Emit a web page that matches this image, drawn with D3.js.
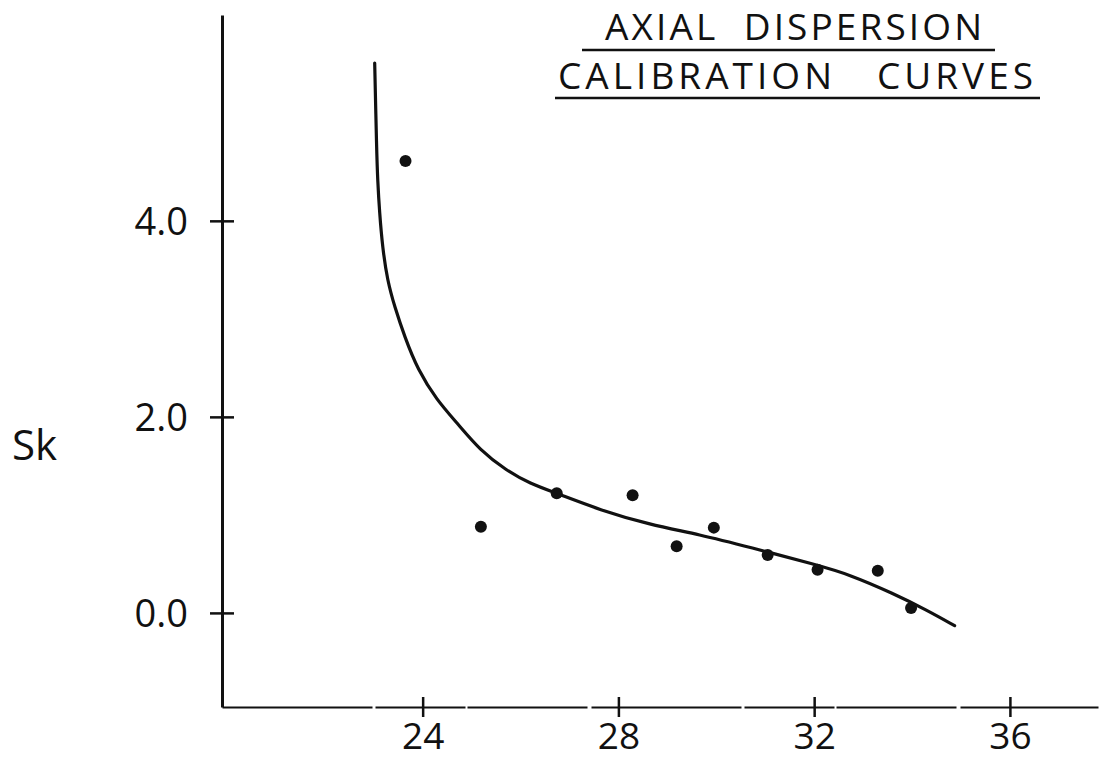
<!DOCTYPE html>
<html>
<head>
<meta charset="utf-8">
<script src="https://cdn.jsdelivr.net/npm/d3@7"></script>
<style>
  body { margin: 0; background: #fff; }
  svg text { font-family: "Open Sans", Lato, "DejaVu Sans", sans-serif; font-weight: 400; fill: #111; }
</style>
</head>
<body>
<div id="chart"></div>
<script>
var width = 1106, height = 760;

// measured points (x, Sk)
var ptX = [23.65, 25.19, 26.74, 28.29, 29.19, 29.95, 31.05, 32.07, 33.30, 33.98];
var ptY = [4.61, 0.88, 1.22, 1.20, 0.68, 0.87, 0.59, 0.44, 0.43, 0.05];

// hand drawn calibration curve
var curveX = [23.02, 23.06, 23.08, 23.12, 23.18, 23.28, 23.43, 23.63, 23.90, 24.29, 24.70, 25.17, 25.72, 26.19, 26.74, 27.62, 28.64, 29.66, 30.68, 32.05, 32.73, 33.61, 34.30, 34.87];
var curveY = [5.61, 4.72, 4.42, 4.08, 3.73, 3.39, 3.12, 2.82, 2.48, 2.17, 1.94, 1.66, 1.45, 1.32, 1.22, 1.05, 0.90, 0.80, 0.67, 0.49, 0.39, 0.20, 0.03, -0.13];

var xTicks = [24, 28, 32, 36];
var yTicks = [0, 2, 4];
var titleLines = ["AXIAL  DISPERSION", "CALIBRATION   CURVES"];
var yLabel = "Sk";

var x = d3.scaleLinear().domain([19.9, 37.8]).range([222, 1098]);
var y = d3.scaleLinear().domain([-0.96, 6.1]).range([707, 15]);

var svg = d3.select("#chart").append("svg")
  .attr("width", width)
  .attr("height", height);

// y axis
var gy = svg.append("g")
  .attr("transform", "translate(222,0)")
  .call(d3.axisLeft(y).tickValues(yTicks).tickSize(12).tickSizeOuter(0).tickPadding(22)
    .tickFormat(d3.format(".1f")));
gy.select(".domain").attr("stroke", "#111").attr("stroke-width", 3);
gy.selectAll(".tick line").attr("x1", -12).attr("x2", 12).attr("stroke", "#111").attr("stroke-width", 2.5);
gy.selectAll(".tick text").attr("font-size", 38).attr("font-family", null).attr("dy", "0.36em");

// x axis
var gx = svg.append("g")
  .attr("transform", "translate(0,707)")
  .call(d3.axisBottom(x).tickValues(xTicks).tickSize(10).tickSizeOuter(0));
gx.select(".domain").attr("stroke", "#111").attr("stroke-width", 2).attr("stroke-dasharray", "150,3,90,2,120,4");
gx.selectAll(".tick line").attr("y1", -10).attr("y2", 10).attr("stroke", "#111").attr("stroke-width", 2.5);
gx.selectAll(".tick text").attr("font-size", 37).attr("font-family", null).attr("y", 42).attr("dy", null);

// curve
var line = d3.line()
  .x(function(d, i){ return x(curveX[i]); })
  .y(function(d, i){ return y(curveY[i]); })
  .curve(d3.curveBasis);

svg.append("path")
  .datum(curveY)
  .attr("fill", "none")
  .attr("stroke", "#111")
  .attr("stroke-width", 3.2)
  .attr("stroke-linecap", "round")
  .attr("d", line);

// points
svg.selectAll(".pt")
  .data(ptY)
  .enter().append("circle")
  .attr("class", "pt")
  .attr("cx", function(d, i){ return x(ptX[i]); })
  .attr("cy", function(d){ return y(d); })
  .attr("r", 6)
  .attr("fill", "#111");

// y label
svg.append("text")
  .attr("x", 12)
  .attr("y", 460)
  .attr("font-size", 42)
  .text(yLabel);

// title
var tl = [
  {x: 605, y: 40, w: 377, ux1: 582, ux2: 995, uy: 50},
  {x: 558, y: 89, w: 475, ux1: 555, ux2: 1040, uy: 98}
];
titleLines.forEach(function(t, i){
  svg.append("text")
    .attr("x", tl[i].x)
    .attr("y", tl[i].y)
    .attr("font-size", 37)
    .attr("textLength", tl[i].w)
    .attr("lengthAdjust", "spacing")
    .style("white-space", "pre")
    .text(t);
  svg.append("line")
    .attr("x1", tl[i].ux1).attr("x2", tl[i].ux2)
    .attr("y1", tl[i].uy).attr("y2", tl[i].uy)
    .attr("stroke", "#111")
    .attr("stroke-width", 2.5);
});
</script>
</body>
</html>
